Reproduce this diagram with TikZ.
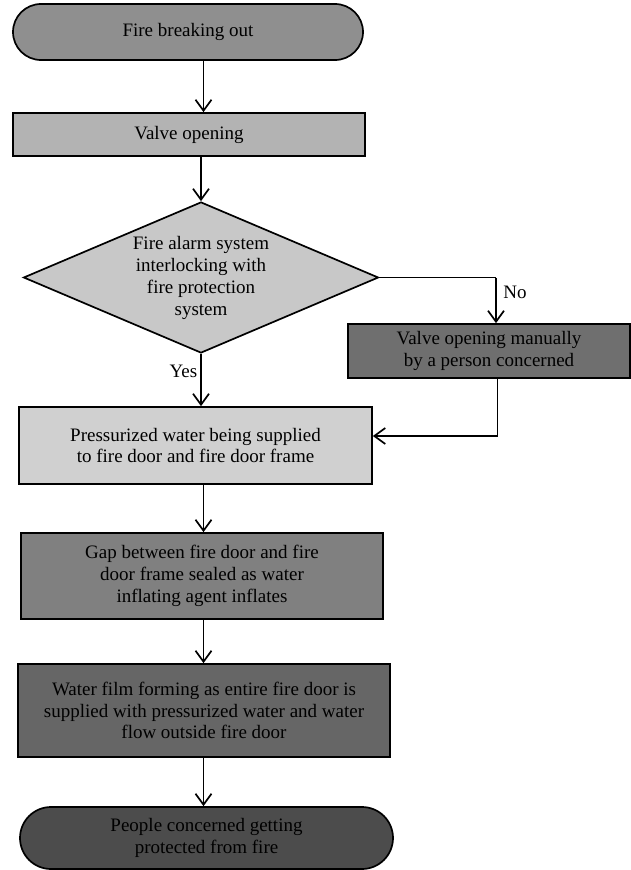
\documentclass[tikz,border=0pt]{standalone}
\usepackage{fontspec}
\setmainfont{Liberation Serif}
\usetikzlibrary{shapes.misc,shapes.geometric,arrows.meta}
\definecolor{cStart}{RGB}{143,143,143}
\definecolor{cValve}{RGB}{179,179,179}
\definecolor{cDiam}{RGB}{200,200,200}
\definecolor{cManual}{RGB}{111,111,111}
\definecolor{cPress}{RGB}{208,208,208}
\definecolor{cGap}{RGB}{128,128,128}
\definecolor{cFilm}{RGB}{102,102,102}
\definecolor{cEnd}{RGB}{76,76,76}
\tikzset{
  base/.style={draw=black, line width=1.7pt, align=center, inner sep=0pt,
    font=\fontsize{19}{21.7}\selectfont, text=black},
  boxnode/.style={base, rectangle},
  termnode/.style={base, rounded rectangle},
  decnode/.style={base, diamond},
  txt/.style={align=center, inner sep=0pt, font=\fontsize{19}{21.7}\selectfont},
  conn/.style={line width=1.7pt, -{Straight Barb[length=11pt,width=16pt,line width=1.7pt]}},
  plainline/.style={line width=1.7pt},
  lbl/.style={font=\fontsize{19}{21.7}\selectfont, inner sep=0pt}
}
\begin{document}
\begin{tikzpicture}[x=1pt,y=-1pt]
\useasboundingbox (0,0) rectangle (631,870);
\node[termnode, fill=cStart, minimum width=350pt, minimum height=56pt] (start) at (188,32) {Fire breaking out};
\node[boxnode, fill=cValve, minimum width=352pt, minimum height=43pt] (valve) at (189,134.5) {Valve opening};
\node[decnode, fill=cDiam, minimum width=355pt, minimum height=151pt] (dec) at (201,277.5) {};
\node[txt] (dectext) at (201,278) {Fire alarm system\\interlocking with\\fire protection\\system};
\node[boxnode, fill=cManual, minimum width=282pt, minimum height=54pt] (manual) at (489,351) {Valve opening manually\\by a person concerned};
\node[boxnode, fill=cPress, minimum width=353pt, minimum height=77pt] (press) at (195.5,445.5) {Pressurized water being supplied\\to fire door and fire door frame};
\node[boxnode, fill=cGap, minimum width=362pt, minimum height=86pt] (gap) at (202,576) {Gap between fire door and fire\\door frame sealed as water\\inflating agent inflates};
\node[boxnode, fill=cFilm, minimum width=372pt, minimum height=93pt] (film) at (204,710.5) {Water film forming as entire fire door is\\supplied with pressurized water and water\\flow outside fire door};
\node[termnode, fill=cEnd, minimum width=373pt, minimum height=62pt] (people) at (206.5,838) {People concerned getting\\protected from fire};

\coordinate (ax) at (203.5,0);
\coordinate (nx) at (496,0);
\coordinate (mx) at (497.5,0);
\coordinate (ry) at (0,436);

\draw[conn] (start.south -| ax) -- (valve.north -| ax);
\draw[conn] (valve.south -| dec.north) -- (dec.north);
\draw[plainline] (dec.east) -- (dec.east -| nx);
\draw[conn] (dec.east -| nx) -- (manual.north -| nx);
\draw[plainline] (manual.south -| mx) -- (mx |- ry);
\draw[conn] (mx |- ry) -- (press.east |- ry);
\draw[conn] (dec.south) -- (press.north -| dec.south);
\draw[conn] (press.south -| ax) -- (gap.north -| ax);
\draw[conn] (gap.south -| ax) -- (film.north -| ax);
\draw[conn] (film.south -| ax) -- (people.north -| ax);

\node[lbl] (no) at (515,292) {No};
\node[lbl] (yes) at (183.5,371) {Yes};
\end{tikzpicture}
\end{document}
